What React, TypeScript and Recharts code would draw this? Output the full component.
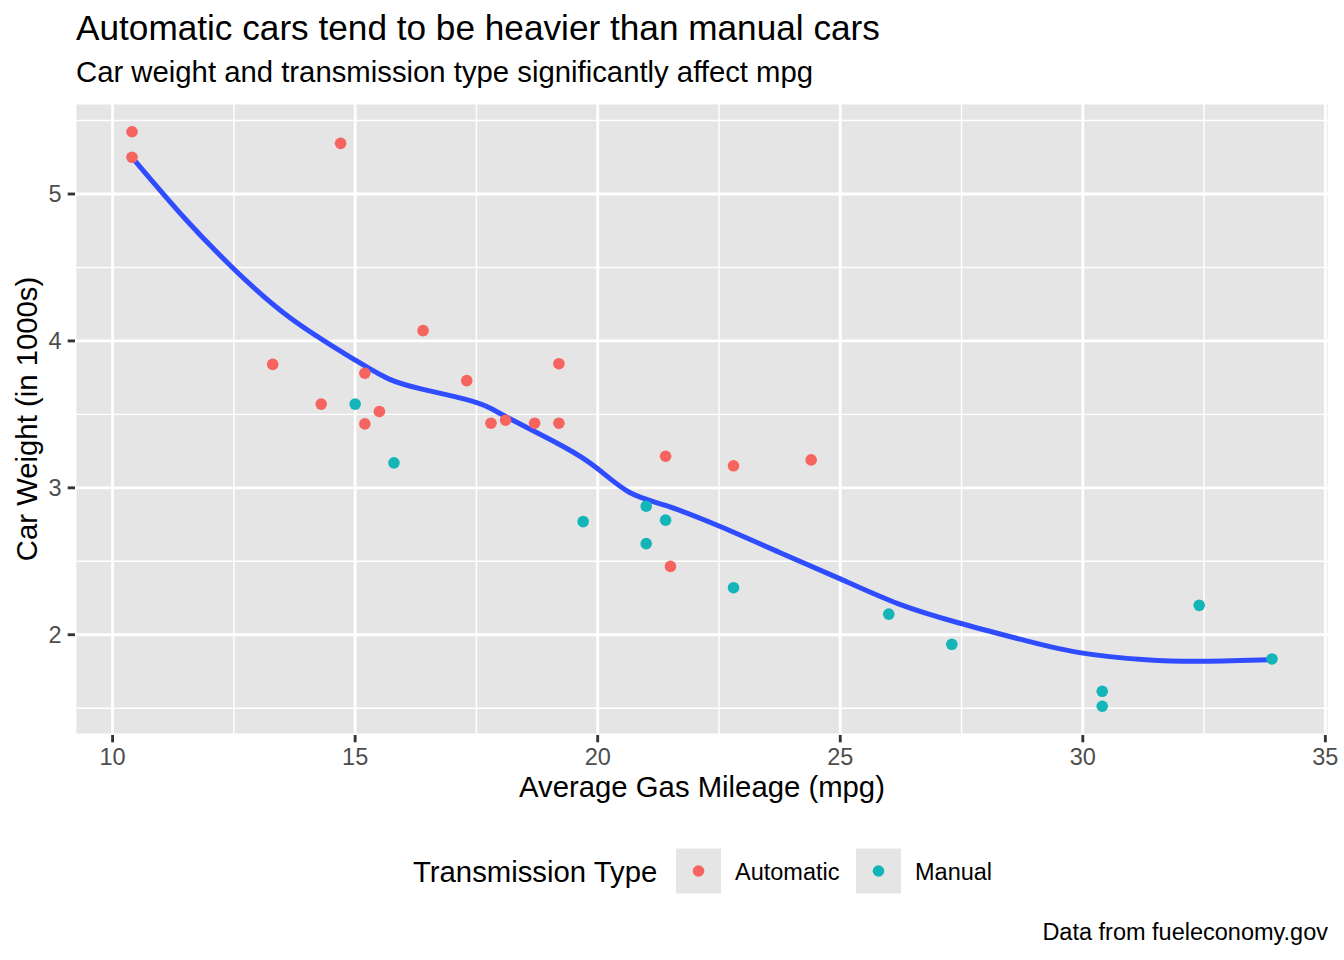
import React from 'react';
import {
  ComposedChart,
  Scatter,
  Line,
  XAxis,
  YAxis,
  CartesianGrid,
  ReferenceLine
} from 'recharts';

// mtcars: automatic transmission
const autoMpg = [21.4, 18.7, 18.1, 14.3, 24.4, 22.8, 19.2, 17.8, 16.4, 17.3, 15.2, 10.4, 10.4, 14.7, 21.5, 15.5, 15.2, 13.3, 19.2];
const autoWt = [3.215, 3.44, 3.46, 3.57, 3.19, 3.15, 3.44, 3.44, 4.07, 3.73, 3.78, 5.25, 5.424, 5.345, 2.465, 3.52, 3.435, 3.84, 3.845];

// mtcars: manual transmission
const manualMpg = [21.0, 21.0, 22.8, 32.4, 30.4, 33.9, 27.3, 26.0, 30.4, 15.8, 19.7, 15.0, 21.4];
const manualWt = [2.62, 2.875, 2.32, 2.2, 1.615, 1.835, 1.935, 2.14, 1.513, 3.17, 2.77, 3.57, 2.78];

// loess curve
const smoothMpg = [10.4, 11.5, 12.5, 13.65, 14.95, 15.7, 16.4, 17.3, 17.8, 18.25, 19.3, 20.0, 20.65, 21.4, 22.5, 23.75, 25.0, 26.2, 27.45, 28.7, 29.9, 31.3, 32.5, 33.9];
const smoothWt = [5.25, 4.83, 4.49, 4.16, 3.88, 3.74, 3.67, 3.6, 3.54, 3.46, 3.28, 3.13, 2.97, 2.88, 2.74, 2.56, 2.38, 2.21, 2.08, 1.97, 1.88, 1.83, 1.82, 1.83];

const xTicks = [10, 15, 20, 25, 30, 35];
const yTicks = [2, 3, 4, 5];
const xMinor = [12.5, 17.5, 22.5, 27.5, 32.5];
const yMinor = [1.5, 2.5, 3.5, 4.5, 5.5];

const AUTO_COLOR = '#F5645F';
const MANUAL_COLOR = '#14B5B9';
const PANEL = '#E5E5E5';
const FONT = '"Liberation Sans", Arial, Helvetica, sans-serif';

const toRows = (xs: number[], ys: number[]) => xs.map((mpg, i) => ({ mpg, wt: ys[i] }));

const autoData = toRows(autoMpg, autoWt);
const manualData = toRows(manualMpg, manualWt);
const smoothData = toRows(smoothMpg, smoothWt);

const dot = (color: string) => (props: any) => (
  <circle cx={props.cx} cy={props.cy} r={5.8} fill={color} />
);

const App: React.FC = () => {
  return (
    <div style={{ position: 'absolute', left: 0, top: 0, width: 1344, height: 960, background: '#fff' }}>
      <ComposedChart
        width={1344}
        height={960}
        margin={{ top: 103, right: 15, bottom: 165, left: 15 }}
      >
        <CartesianGrid fill={PANEL} stroke="#FFFFFF" strokeWidth={2.85} />
        {xMinor.map(v => (
          <ReferenceLine key={`xm-${v}`} x={v} stroke="#FFFFFF" strokeWidth={1.42} />
        ))}
        {yMinor.map(v => (
          <ReferenceLine key={`ym-${v}`} y={v} stroke="#FFFFFF" strokeWidth={1.42} />
        ))}
        <XAxis
          type="number"
          dataKey="mpg"
          domain={[9.225, 35.075]}
          ticks={xTicks}
          allowDataOverflow
          axisLine={false}
          tickLine={{ stroke: '#333333', strokeWidth: 2.85 }}
          tickSize={7.3}
          tickMargin={6}
          height={60}
          tick={{ fill: '#4D4D4D', fontSize: 23.5, fontFamily: FONT }}
        />
        <YAxis
          type="number"
          dataKey="wt"
          domain={[1.31745, 5.61955]}
          ticks={yTicks}
          allowDataOverflow
          axisLine={false}
          tickLine={{ stroke: '#333333', strokeWidth: 2.85 }}
          tickSize={7.3}
          tickMargin={6}
          width={60}
          tick={{ fill: '#4D4D4D', fontSize: 23.5, fontFamily: FONT }}
        />
        <Scatter name="Automatic" data={autoData} dataKey="wt" shape={dot(AUTO_COLOR)} isAnimationActive={false} />
        <Scatter name="Manual" data={manualData} dataKey="wt" shape={dot(MANUAL_COLOR)} isAnimationActive={false} />
        <Line
          data={smoothData}
          dataKey="wt"
          type="natural"
          stroke="#2F4DFF"
          strokeWidth={5}
          dot={false}
          activeDot={false}
          isAnimationActive={false}
        />
      </ComposedChart>

      <svg
        width={1344}
        height={960}
        style={{ position: 'absolute', left: 0, top: 0, pointerEvents: 'none' }}
        fontFamily={FONT}
      >
        <text x={76} y={40} fontSize={35.2} fill="#000">
          Automatic cars tend to be heavier than manual cars
        </text>
        <text x={76} y={82} fontSize={29.3} fill="#000">
          Car weight and transmission type significantly affect mpg
        </text>
        <text
          x={0}
          y={0}
          fontSize={29.3}
          fill="#000"
          textAnchor="middle"
          transform="translate(37 419) rotate(-90)"
        >
          Car Weight (in 1000s)
        </text>
        <text x={702} y={797} fontSize={29.3} fill="#000" textAnchor="middle">
          Average Gas Mileage (mpg)
        </text>

        <text x={413} y={882} fontSize={29.3} fill="#000">Transmission Type</text>
        <rect x={676} y={848.5} width={45} height={45} fill={PANEL} />
        <circle cx={698.5} cy={871} r={5.8} fill={AUTO_COLOR} />
        <text x={735} y={880} fontSize={23.5} fill="#000">Automatic</text>
        <rect x={856} y={848.5} width={45} height={45} fill={PANEL} />
        <circle cx={878.5} cy={871} r={5.8} fill={MANUAL_COLOR} />
        <text x={915} y={880} fontSize={23.5} fill="#000">Manual</text>

        <text x={1328} y={940} fontSize={23.5} fill="#000" textAnchor="end">
          Data from fueleconomy.gov
        </text>
      </svg>
    </div>
  );
};

export default App;
